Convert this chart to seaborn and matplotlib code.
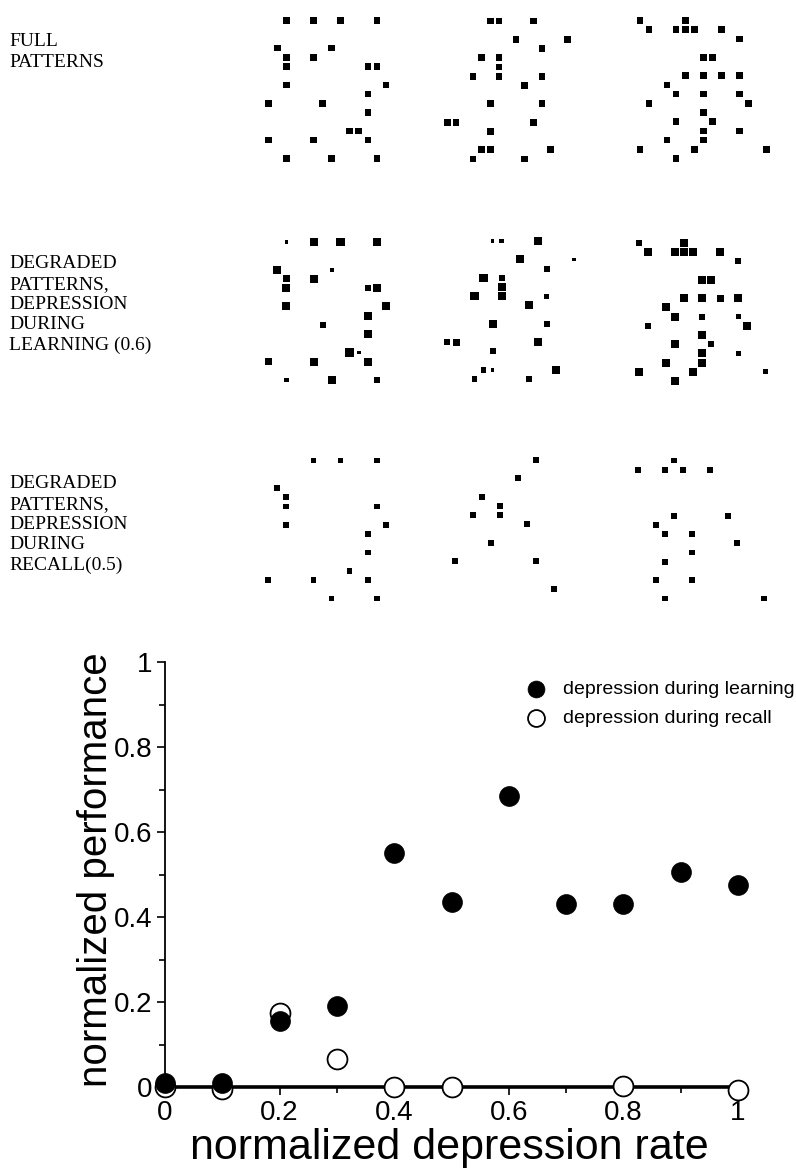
import matplotlib
matplotlib.use("Agg")
import matplotlib.pyplot as plt
import numpy as np
import pandas as pd
import seaborn as sns

# ---- data ----
# firing patterns: (column, row) grid cells of active units, one list per pattern
full_1 = [(2,0),(5,0),(8,0),(12,0),(1,3),(7,3),(2,4),(5,4),(2,5),(11,5),(12,5),(2,7),(13,7),
          (11,8),(0,9),(6,9),(11,10),(9,12),(10,12),(0,13),(5,13),(11,13),(2,15),(7,15),(12,15)]
full_2 = [(5,0),(6,0),(10,0),(8,2),(14,2),(11,3),(4,4),(6,4),(6,5),(3,6),(6,6),(11,6),(9,7),
          (5,9),(11,9),(0,11),(1,11),(10,11),(5,12),(4,14),(5,14),(12,14),(3,15),(9,15)]
full_3 = [(0,0),(5,0),(1,1),(4,1),(5,1),(6,1),(9,1),(11,2),(7,4),(8,4),(5,6),(7,6),(9,6),(11,6),
          (3,7),(4,8),(7,8),(11,8),(1,9),(12,9),(7,10),(4,11),(8,11),(7,12),(11,12),(3,13),(7,13),
          (0,14),(6,14),(14,14),(4,15)]

# activity level of each unit of the full pattern after depression during learning (0 = gone)
learn_1 = [1,3,3.3,3,3,1.2,2.5,3,3,2,3,3,3,3,0,2,3,3.3,1,2.7,3,3,1.3,3,2]
learn_2 = [1,1.5,3,3,1,2,3,2,3,3,3,1.5,3,3,2,2,2.5,3,2,2,1,3,2,2]
learn_3 = [2,3,3,3,3,3,3,2,3,3,3,3,2.5,3,3,3,2,1.5,2,3,3,3,2,3,1.5,3,3,3,3,1.5,3]

# units left when depression acts during recall
recall_1 = [(5,0),(8,0),(12,0),(1,3),(2,4),(2,5),(12,5),(2,7),(13,7),(11,8),(11,10),(9,12),
            (0,13),(5,13),(11,13),(7,15),(12,15)]
recall_2 = [(10,0),(8,2),(4,4),(6,5),(3,6),(6,6),(9,7),(5,9),(1,11),(10,11),(12,14)]
recall_3 = [(5,0),(1,1),(4,1),(6,1),(9,1),(5,6),(11,6),(3,7),(4,8),(7,8),(12,9),(7,10),(4,11),
            (3,13),(7,13),(4,15),(15,15)]

row_labels = ["FULL\nPATTERNS",
              "DEGRADED\nPATTERNS,\nDEPRESSION\nDURING\nLEARNING (0.6)",
              "DEGRADED\nPATTERNS,\nDEPRESSION\nDURING\nRECALL(0.5)"]

# performance curve
rate = [0, 0.1, 0.2, 0.3, 0.4, 0.5, 0.6, 0.7, 0.8, 0.9, 1.0]
perf_learning = [0.01, 0.01, 0.155, 0.19, 0.55, 0.435, 0.685, 0.43, 0.43, 0.505, 0.475]
rate_recall = [0, 0.1, 0.2, 0.3, 0.4, 0.5, 0.8, 1.0]
perf_recall = [0.0, -0.005, 0.175, 0.065, 0.0, 0.0, 0.003, -0.008]

# ---- figure ----
sns.set_style("white")
plt.rcParams['font.family'] = ['Liberation Sans', 'DejaVu Sans']
plt.rcParams.update({"text.color": "black", "axes.labelcolor": "black",
                     "axes.edgecolor": "black",
                     "xtick.color": "black", "ytick.color": "black"})
W, H = 796, 1176
fig = plt.figure(figsize=(W/100, H/100), dpi=100)

def px_axes(left, top, width, height):
    return fig.add_axes([left/W, 1-(top+height)/H, width/W, height/H])

def pt_area(px):
    return (np.asarray(px) * 0.72) ** 2

def draw_pattern(ax, cells, level=None, base_px=6.7):
    df = pd.DataFrame(cells, columns=["col", "row"])
    if level is None:
        df["area"] = pt_area(base_px)
    else:
        df["level"] = level
        df = df[df["level"] > 0]
        df["area"] = pt_area(1.5 + 2.2*df["level"])
    a0, a1 = df["area"].min(), df["area"].max() + 1e-6
    sns.scatterplot(data=df, x="col", y="row", size="area", sizes=(a0, a1), size_norm=(a0, a1),
                    marker="s", color="black", linewidth=0, legend=False, ax=ax)
    ax.set_xlim(-0.5, 15.5)
    ax.set_ylim(15.5, -0.5)
    ax.axis("off")

ystep = 9.2
panels = [
    # cells, level, c0 px, r0 px, x step px, base size px
    (full_1, None, 268.3, 20.5, 9.05, 6.7),
    (full_2, None, 447.3, 21.0, 8.6, 6.7),
    (full_3, None, 640.0, 20.5, 9.03, 6.7),
    (full_1, learn_1, 268.3, 242.0, 9.05, None),
    (full_2, learn_2, 447.3, 241.0, 9.05, None),
    (full_3, learn_3, 639.3, 243.0, 9.0, None),
    (recall_1, None, 268.3, 460.5, 9.03, 5.8),
    (recall_2, None, 446.0, 460.0, 9.0, 5.8),
    (recall_3, None, 629.3, 460.5, 9.0, 5.8),
]
for cells, lev, c0, r0, xs, base in panels:
    ax = px_axes(c0 - 0.5*xs, r0 - 0.5*ystep, 16*xs, 16*ystep)
    draw_pattern(ax, cells, lev, base if base else 6.7)

label_tops = [33.5, 255.5, 475.5]
for txt, top in zip(row_labels, label_tops):
    fig.text(9/W, 1-top/H, txt, family=['Liberation Serif', 'DejaVu Serif'], fontsize=14,
             color="black", va="top", ha="left", linespacing=1.25)

# ---- performance plot ----
x0px, x1px = 165, 738
y0px, y1px = 1087, 662
sx, sy = x1px - x0px, y0px - y1px
xlo, xhi, ylo, yhi = -0.06, 1.06, -0.06, 1.06
ax = px_axes(x0px + xlo*sx, y0px - yhi*sy, (xhi-xlo)*sx, (yhi-ylo)*sy)

df_rec = pd.DataFrame({"rate": rate_recall, "perf": perf_recall})
df_learn = pd.DataFrame({"rate": rate, "perf": perf_learning})
sns.scatterplot(data=df_rec, x="rate", y="perf", s=205, marker="o", facecolor="white",
                edgecolor="black", linewidth=1.3, ax=ax, clip_on=False, zorder=3,
                label="depression during recall")
sns.scatterplot(data=df_learn, x="rate", y="perf", s=205, marker="o", color="black",
                edgecolor="black", linewidth=0.5, ax=ax, clip_on=False, zorder=4,
                label="depression during learning")

ax.set_xlim(xlo, xhi)
ax.set_ylim(ylo, yhi)
for s in ["top", "right"]:
    ax.spines[s].set_visible(False)
ax.spines["left"].set_bounds(0, 1)
ax.spines["left"].set_linewidth(1.3)
ax.spines["left"].set_position(("data", 0))
ax.spines["bottom"].set_bounds(0, 1.01)
ax.spines["bottom"].set_linewidth(2.6)
ax.spines["bottom"].set_position(("data", 0))
ax.spines["bottom"].set_zorder(2)

major = [0, 0.2, 0.4, 0.6, 0.8, 1.0]
ticklabels = ["0", "0.2", "0.4", "0.6", "0.8", "1"]
ax.set_xticks(major, ticklabels)
ax.set_yticks(major, ticklabels)
ax.set_xticks(np.arange(0, 1.01, 0.1), minor=True)
ax.set_yticks(np.arange(0, 1.01, 0.1), minor=True)
ax.tick_params(which="both", direction="out", color="black", width=1.2, labelsize=20, pad=3)
ax.tick_params(which="major", length=6)
ax.tick_params(which="minor", length=4)
ax.tick_params(axis="x", which="both", bottom=True)
ax.tick_params(axis="y", which="both", left=True)

ax.set_xlabel("normalized depression rate", fontsize=31)
ax.set_ylabel("normalized performance", fontsize=29)
ax.xaxis.set_label_coords((449 - (x0px + xlo*sx)) / ((xhi-xlo)*sx),
                          ((y0px - ylo*sy) - 1148) / ((yhi-ylo)*sy))
ax.xaxis.label.set_va("center")
ax.yaxis.set_label_coords((96 - (x0px + xlo*sx)) / ((xhi-xlo)*sx),
                          ((y0px - ylo*sy) - 870) / ((yhi-ylo)*sy))
ax.yaxis.label.set_va("center")

h, l = ax.get_legend_handles_labels()
ax.legend(h[::-1], l[::-1], loc="upper left", bbox_to_anchor=(526/W, 1-680/H),
          bbox_transform=fig.transFigure, frameon=False, fontsize=14, handlelength=1.0,
          handletextpad=0.9, labelspacing=0.62, borderpad=0, borderaxespad=0, markerscale=0.85)

fig.savefig("out.png", dpi=100)
